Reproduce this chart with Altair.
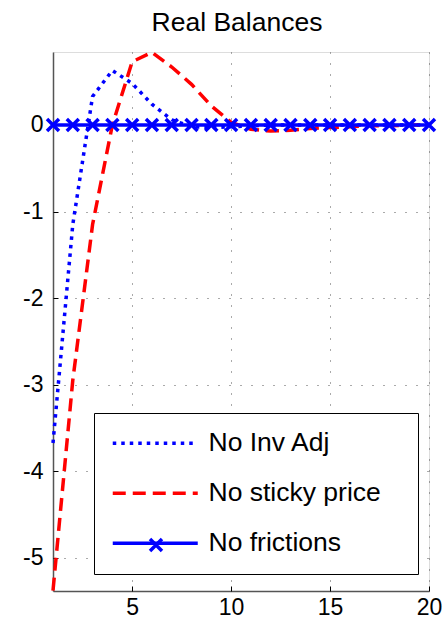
import altair as alt
import pandas as pd

# Impulse responses of real balances, periods 1..20
periods = list(range(1, 21))
no_inv_adj = [-3.675, -1.15, 0.33, 0.63, 0.48, 0.24, 0.06, -0.02, -0.03, -0.02,
              -0.01, 0.0, 0.0, 0.0, 0.0, 0.0, 0.0, 0.0, 0.0, 0.0]
no_sticky_price = [-5.38, -2.95, -1.15, 0.0, 0.73, 0.84, 0.67, 0.47, 0.22, 0.03,
                   -0.05, -0.07, -0.06, -0.04, -0.03, -0.02, -0.01, -0.01, 0.0, 0.0]
no_frictions = [0.0, 0.0, 0.0, 0.0, 0.0, 0.0, 0.0, 0.0, 0.0, 0.0,
                0.0, 0.0, 0.0, 0.0, 0.0, 0.0, 0.0, 0.0, 0.0, 0.0]

series_names = ["No Inv Adj", "No sticky price", "No frictions"]
series_values = [no_inv_adj, no_sticky_price, no_frictions]
x_ticks = [5, 10, 15, 20]
y_ticks = [-5, -4, -3, -2, -1, 0]

rows = []
for name, vals in zip(series_names, series_values):
    for p, v in zip(periods, vals):
        rows.append({"period": p, "value": v, "series": name})
df = pd.DataFrame(rows)

FONT = "Liberation Sans"
BLUE = "#0000ff"
RED = "#ff0000"
AXIS_GRAY = "#555555"

x_scale = alt.Scale(domain=[1, 20], nice=False, zero=False)
y_scale = alt.Scale(domain=[-5.385, 0.8435], nice=False, zero=False)

# legend glyphs: a long stroke for each series, an "x" for the marker
line_path = "M-4.25,0L4.25,0"
cross_path = "M-1,-1L1,1M-1,1L1,-1"

line_legend = alt.Legend(
    title=None,
    orient="none",
    legendX=41,
    legendY=361,
    direction="vertical",
    symbolType=line_path,
    symbolSize=400,
    symbolStrokeWidth=3.5,
    symbolOffset=31,
    labelOffset=40,
    labelFont=FONT,
    labelFontSize=26.5,
    labelColor="black",
    labelLimit=400,
    # a blank braille cell keeps some room between the labels and the frame
    labelExpr="datum.label + '\u2800'",
    rowPadding=23,
    padding=17,
    strokeColor="black",
    fillColor="white",
    cornerRadius=0,
)

marker_legend = alt.Legend(
    title=None,
    orient="none",
    legendX=95,
    legendY=485,
    symbolType=cross_path,
    symbolSize=144,
    symbolStrokeWidth=3.5,
    symbolStrokeColor=BLUE,
    symbolFillColor="transparent",
    labelExpr="''",
    labelFontSize=1,
    labelOffset=0,
    padding=0,
    zindex=5,
)

x_axis_main = alt.Axis(
    values=x_ticks, title=None, grid=True, gridColor=AXIS_GRAY, gridDash=[1, 10],
    gridWidth=1, ticks=False, tickSize=0, domain=True, domainColor=AXIS_GRAY,
    domainWidth=1.5, labelFont=FONT, labelFontSize=23, labelColor="black",
    labelPadding=5, labelFlush=False,
)
y_axis_main = alt.Axis(
    values=y_ticks, title=None, grid=True, gridColor=AXIS_GRAY, gridDash=[1, 10],
    gridWidth=1, ticks=False, tickSize=0, domain=True, domainColor=AXIS_GRAY,
    domainWidth=1.5, labelFont=FONT, labelFontSize=23, labelColor="black",
    labelPadding=10, labelExpr="'' + datum.value",
)

# tick-only axes pulled inside the frame so the marks point inward
x_axis_ticks = alt.Axis(
    orient="bottom", values=x_ticks, title=None, grid=False, labels=False,
    domain=False, ticks=True, tickSize=5, tickColor="black", tickWidth=1, offset=-5,
)
y_axis_ticks = alt.Axis(
    orient="left", values=y_ticks, title=None, grid=False, labels=False,
    domain=False, ticks=True, tickSize=5, tickColor="black", tickWidth=1, offset=-5,
)

lines = alt.Chart(df).mark_line(strokeWidth=3.5, strokeCap="butt").encode(
    x=alt.X("period:Q", scale=x_scale, axis=x_axis_main),
    y=alt.Y("value:Q", scale=y_scale, axis=y_axis_main),
    color=alt.Color(
        "series:N",
        scale=alt.Scale(domain=series_names, range=[BLUE, RED, BLUE]),
        legend=line_legend,
    ),
    strokeDash=alt.StrokeDash(
        "series:N",
        scale=alt.Scale(domain=series_names, range=[[3.5, 5], [13, 7], [1, 0]]),
        legend=line_legend,
    ),
)

markers = alt.Chart(df).transform_filter(
    alt.datum.series == "No frictions"
).transform_calculate(
    marker="'x'"
).mark_point(
    size=144, strokeWidth=3.5, color=BLUE, filled=False, opacity=1
).encode(
    x=alt.X("period:Q", scale=x_scale, axis=x_axis_ticks),
    y=alt.Y("value:Q", scale=y_scale, axis=y_axis_ticks),
    shape=alt.Shape("marker:N", scale=alt.Scale(range=[cross_path]),
                    legend=marker_legend),
)

chart = alt.layer(lines, markers).resolve_axis(
    x="independent", y="independent"
).properties(
    width=376,
    height=539,
    title=alt.Title("Real Balances", font=FONT, fontSize=26.5, fontWeight="normal",
                    color="black", anchor="middle", offset=9, dx=-4),
    autosize=alt.AutoSizeParams(type="none"),
    padding={"left": 53, "top": 52, "right": 18, "bottom": 36},
).configure_view(stroke=None).configure(background="white")

chart.save("out.html", embed_options={"renderer": "svg", "actions": False})
